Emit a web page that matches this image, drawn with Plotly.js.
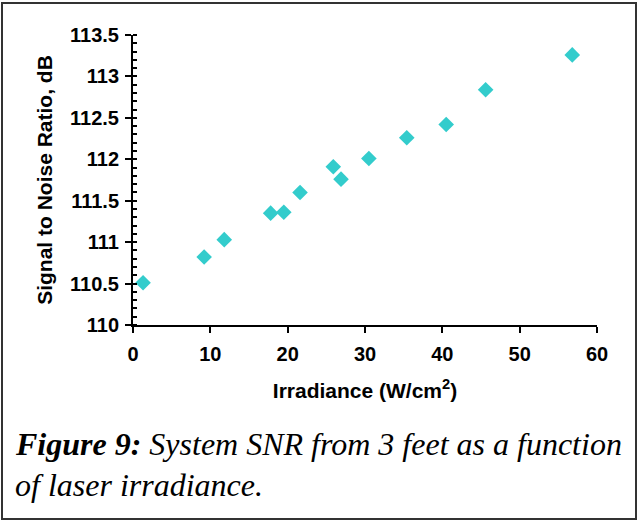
<!DOCTYPE html>
<html>
<head>
<meta charset="utf-8">
<script src="https://cdn.plot.ly/plotly-3.0.1.min.js"></script>
<style>
  html, body { margin: 0; padding: 0; background: #fff; }
  #wrap { position: relative; width: 637px; height: 520px; }
  #chart { width: 637px; height: 520px; }
  #frame { position: absolute; left: 1px; top: 2px; width: 632px; height: 514px;
           border: 2px solid #333; pointer-events: none; }
</style>
</head>
<body>
<div id="wrap">
  <div id="chart"></div>
  <div id="frame"></div>
</div>
<script>
// Data
const irradiance = [1.3, 9.2, 11.8, 17.8, 19.5, 21.6, 25.9, 26.9, 30.5, 35.4, 40.5, 45.6, 56.8];
const snrDb = [110.51, 110.82, 111.03, 111.35, 111.36, 111.60, 111.91, 111.76, 112.01, 112.26, 112.42, 112.84, 113.26];

const xTickVals = [0, 10, 20, 30, 40, 50, 60];
const xTickLabels = ['0', '10', '20', '30', '40', '50', '60'];
const yTickVals = [110, 110.5, 111, 111.5, 112, 112.5, 113, 113.5];
const yTickLabels = ['110', '110.5', '111', '111.5', '112', '112.5', '113', '113.5'];

const xTitle = 'Irradiance (W/cm<sup>2</sup>)';
const yTitle = 'Signal to Noise Ratio, dB';
const captionLine1 = '<b>Figure 9:</b> System SNR from 3 feet as a function';
const captionLine2 = 'of laser irradiance.';

const sans = 'Liberation Sans, Arial, sans-serif';
const serif = 'Liberation Serif, Times New Roman, serif';

const trace = {
  x: irradiance,
  y: snrDb,
  type: 'scatter',
  mode: 'markers',
  marker: { symbol: 'diamond', size: 12, color: '#33CCCC', line: { width: 0 } },
  cliponaxis: false,
  hoverinfo: 'x+y'
};

const layout = {
  width: 637,
  height: 520,
  margin: { l: 133, r: 40, t: 35, b: 195 },
  paper_bgcolor: '#ffffff',
  plot_bgcolor: '#ffffff',
  showlegend: false,
  font: { family: sans, color: '#000' },
  xaxis: {
    range: [0, 60],
    tickmode: 'array',
    tickvals: xTickVals,
    ticktext: xTickLabels,
    showgrid: false,
    zeroline: false,
    showline: true,
    linecolor: '#000',
    linewidth: 2,
    ticks: 'outside',
    ticklen: 6,
    tickwidth: 2,
    tickcolor: '#000',
    ticklabelstandoff: 4,
    tickfont: { family: sans, size: 20, weight: 'bold', color: '#000' },
    title: { text: xTitle, font: { family: sans, size: 21, weight: 'bold', color: '#000' }, standoff: 19 }
  },
  yaxis: {
    range: [110, 113.5],
    tickmode: 'array',
    tickvals: yTickVals,
    ticktext: yTickLabels,
    showgrid: false,
    zeroline: false,
    showline: true,
    linecolor: '#000',
    linewidth: 2,
    ticks: 'outside',
    ticklen: 6,
    tickwidth: 2,
    tickcolor: '#000',
    ticklabelstandoff: 2,
    minor: { tickmode: 'linear', tick0: 110, dtick: 0.1, ticks: 'inside', ticklen: 4, tickwidth: 2, tickcolor: '#000', showgrid: false },
    tickfont: { family: sans, size: 20, weight: 'bold', color: '#000' },
    title: { text: yTitle, font: { family: sans, size: 21, weight: 'bold', color: '#000' }, standoff: 12 }
  },
  annotations: [
    { text: '<i>' + captionLine1 + '</i>', xref: 'paper', yref: 'paper',
      x: (13 - 133) / 464, y: (325 - 444) / 290, xanchor: 'left', yanchor: 'middle',
      showarrow: false, font: { family: serif, size: 32, color: '#000' } },
    { text: '<i>' + captionLine2 + '</i>', xref: 'paper', yref: 'paper',
      x: (13 - 133) / 464, y: (325 - 485) / 290, xanchor: 'left', yanchor: 'middle',
      showarrow: false, font: { family: serif, size: 32, color: '#000' } }
  ]
};

Plotly.newPlot('chart', [trace], layout, { displayModeBar: false, staticPlot: true });
</script>
</body>
</html>
